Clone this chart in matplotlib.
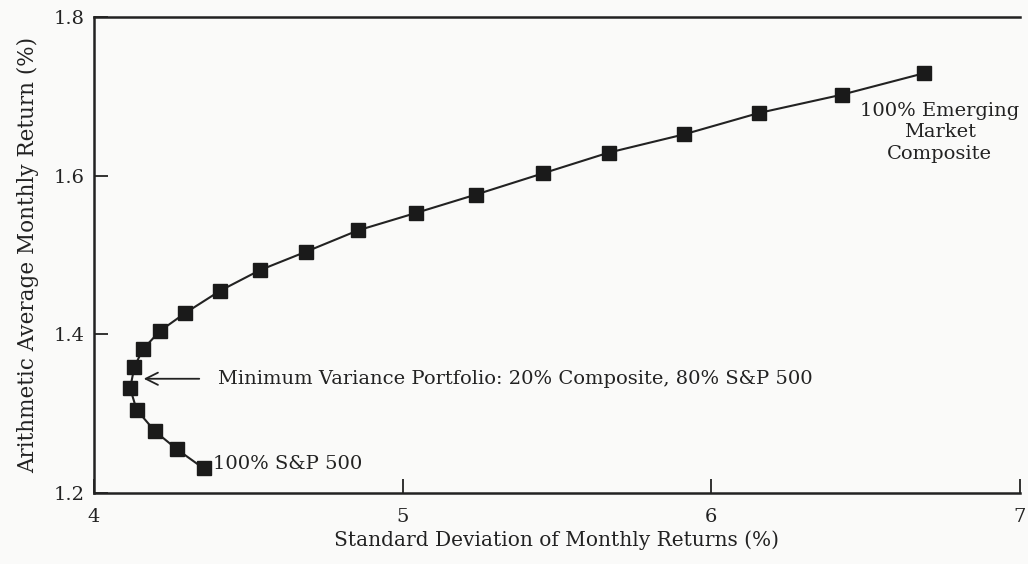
import matplotlib
matplotlib.use("Agg")
import matplotlib.pyplot as plt

# frontier points, 0% composite (100% S&P 500) -> 100% emerging market composite
std_dev = [4.355, 4.269, 4.197, 4.138, 4.117, 4.131, 4.158, 4.213, 4.296, 4.409,
           4.538, 4.686, 4.855, 5.043, 5.236, 5.455, 5.667, 5.911, 6.154, 6.422, 6.688]
avg_ret = [1.231, 1.255, 1.278, 1.305, 1.332, 1.359, 1.381, 1.404, 1.427, 1.455,
           1.481, 1.504, 1.531, 1.553, 1.576, 1.603, 1.629, 1.652, 1.679, 1.702, 1.729]

x_ticks = [4, 5, 6, 7]
y_ticks = [1.2, 1.4, 1.6, 1.8]

plt.rcParams['font.family'] = ['DejaVu Serif']
ink = '#222222'

fig = plt.figure(figsize=(10.28, 5.64), dpi=100)
fig.patch.set_facecolor('#fafaf9')
ax = fig.add_axes([94/1028, 1-493/564, (1020-94)/1028, (493-17)/564])
ax.set_facecolor('#fafaf9')

ax.plot(std_dev, avg_ret, color=ink, lw=1.5, marker='s', ms=9.5,
        mfc='#1a1a1a', mec='#1a1a1a', clip_on=False)

ax.set_xlim(4, 7)
ax.set_ylim(1.2, 1.8)
ax.set_xticks(x_ticks)
ax.set_yticks(y_ticks)
ax.set_xticklabels([str(t) for t in x_ticks])
ax.set_yticklabels([f"{t:.1f}" for t in y_ticks])
ax.tick_params(direction='in', length=10, width=1.3, colors=ink, labelsize=14)
ax.tick_params(axis='x', pad=11)
ax.tick_params(axis='y', pad=7)
for s in ax.spines.values():
    s.set_linewidth(1.8)
    s.set_color(ink)
ax.spines['right'].set_visible(False)

ax.set_xlabel("Standard Deviation of Monthly Returns (%)", fontsize=14.5, color=ink, labelpad=3)
ax.set_ylabel("Arithmetic Average Monthly Return (%)", fontsize=15.5, color=ink, labelpad=10)

ax.annotate("", xy=(4.152, 1.344), xytext=(4.35, 1.344),
            arrowprops=dict(arrowstyle='->', color=ink, lw=1.3, mutation_scale=22))
ax.text(4.403, 1.344, "Minimum Variance Portfolio: 20% Composite, 80% S&P 500",
        fontsize=14, color=ink, va='center', ha='left')
ax.text(4.385, 1.236, "100% S&P 500", fontsize=14, color=ink, va='center', ha='left')
ax.text(6.74, 1.655, "100% Emerging\nMarket\nComposite", fontsize=14, color=ink,
        va='center', ha='center', linespacing=1.25)

fig.savefig("out.png", dpi=100, facecolor=fig.get_facecolor())
